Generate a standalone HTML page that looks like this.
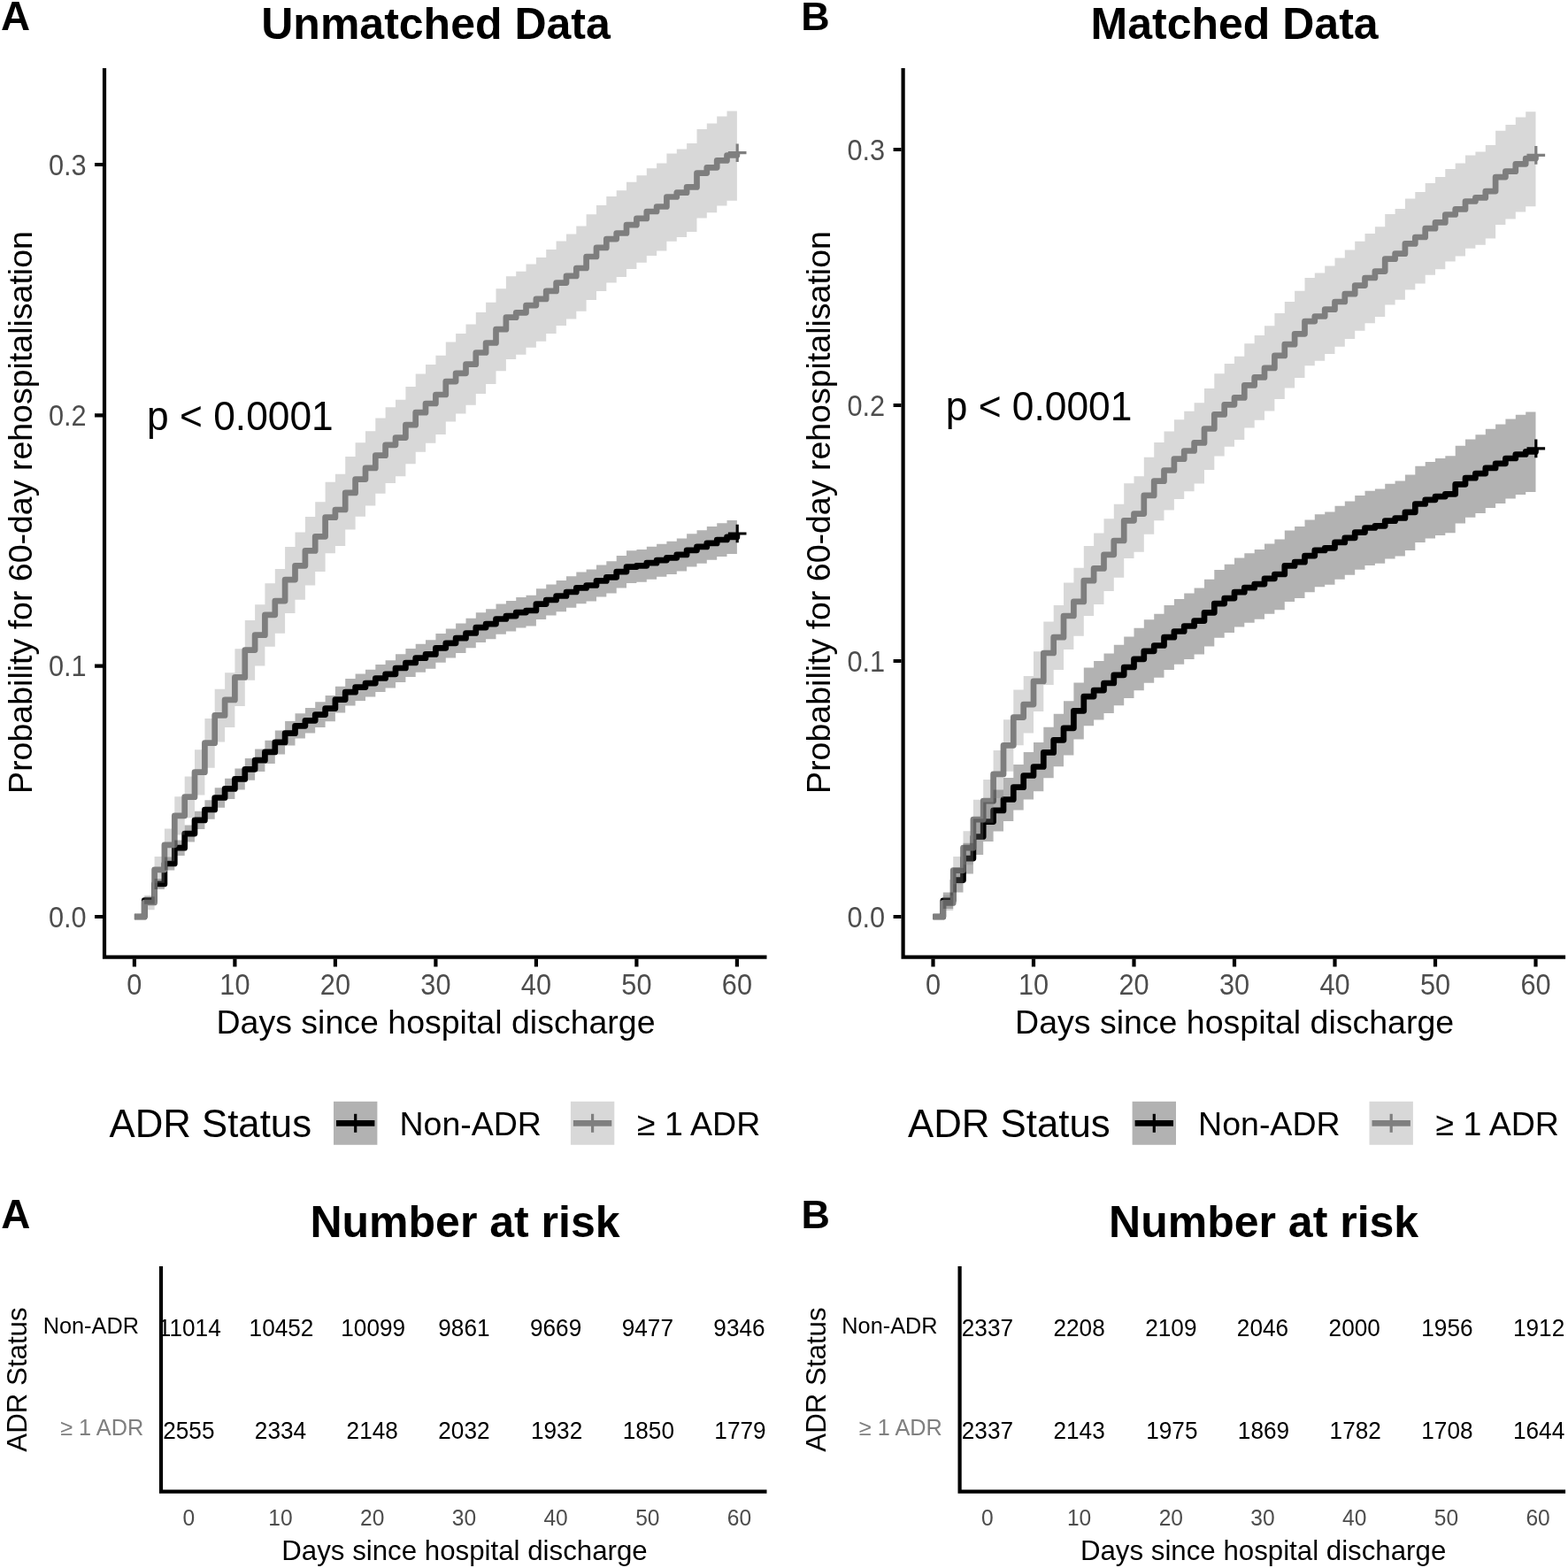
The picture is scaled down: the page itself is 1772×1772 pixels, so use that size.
<!DOCTYPE html>
<html lang="en">
<head>
<meta charset="utf-8">
<title>Kaplan-Meier: 60-day rehospitalisation by ADR status</title>
<style>
html,body{margin:0;padding:0;background:#fff;}
body{width:1772px;height:1772px;overflow:hidden;}
svg{display:block;font-family:"Liberation Sans",Arial,Helvetica,sans-serif;}
.tk{font-size:32px;fill:#4D4D4D;}
.ti{font-size:50px;font-weight:bold;fill:#000;}
.lab{font-size:45.8px;font-weight:bold;fill:#000;}
.at{font-size:37.5px;fill:#000;}
.pv{font-size:44.3px;fill:#000;}
.lt{font-size:43.75px;fill:#000;}
.ll{font-size:37.5px;fill:#000;}
.tn{font-size:27.3px;fill:#000;}
.tt{font-size:25.6px;fill:#4D4D4D;}
.tr{font-size:25.3px;}
.ta{font-size:31.25px;fill:#000;}
.ty{font-size:31.25px;fill:#000;}
</style>
</head>
<body>
<svg width="1772" height="1772" viewBox="0 0 1772 1772">
<rect width="1772" height="1772" fill="#fff"/>
<path d="M151.9,1036H163.2V1017.5H174.6V998.9H185.9V976H197.3V958.2H208.7V942.1H220V926.9H231.4V915H242.7V901.5H254.1V891.4H265.4V880.4H276.8V869.3H288.1V859.2H299.4V849.9H310.8V838.9H322.1V828.7H333.5V820.3H344.9V814.3H356.2V807.6H367.6V800.6H378.9V790.6H390.2V782.2H401.6V776.6H413V772.1H424.3V766.5H435.6V761.8H447V755H458.4V749H469.7V743.7H481V739.4H492.4V732.3H503.8V726.8H515.1V721.2H526.5V715.5H537.8V709.1H549.1V705.1H560.5V699.5H571.9V696.1H583.2V692.1H594.5V690H605.9V682.6H617.2V678H628.6V673.5H640V669H651.3V664.4H662.6V661.5H674V656.4H685.3V652.3H696.7V646.1H708V640.6H719.4V639.3H730.8V636.2H742.1V633.1H753.4V630.3H764.8V626.9H776.1V621.8H787.5V617.9H798.8V613.9H810.2V610H821.5V606.9H832.9V603" fill="none" stroke="#000" stroke-width="6.7" stroke-linejoin="round"/>
<path d="M151.9,1036H163.2V1020H174.6V982.8H185.9V954.8H197.3V921.8H208.7V900.7H220V872.7H231.4V839.7H242.7V808.4H254.1V790.9H265.4V765.4H276.8V734.6H288.1V717.7H299.4V694.8H310.8V679.1H322.1V655.1H333.5V639.3H344.9V622.4H356.2V606.3H367.6V584.7H378.9V576H390.2V556.9H401.6V541.6H413V528.9H424.3V514.7H435.6V502.8H447V494.6H458.4V480.2H469.7V466.2H481V456H492.4V446H503.8V431.1H515.1V421.8H526.5V411.7H537.8V398.5H549.1V387.5H560.5V372.2H571.9V358.7H583.2V353.3H594.5V345.1H605.9V337.9H617.2V328.9H628.6V319.6H640V311.9H651.3V303H662.6V290H674V279.9H685.3V270.1H696.7V263.5H708V254.2H719.4V246.9H730.8V239H742.1V233.5H753.4V222.5H764.8V217.7H776.1V211.4H787.5V195.6H798.8V189.3H810.2V181.4H821.5V175.5H832.9V172.7" fill="none" stroke="#7F7F7F" stroke-width="6.7" stroke-linejoin="round"/>
<path d="M151.9,1036H163.2V1013.2H174.6V992.9H185.9V968.4H197.3V949.6H208.7V932.6H220V916.7H231.4V904.3H242.7V890.3H254.1V879.8H265.4V868.4H276.8V856.9H288.1V846.4H299.4V836.8H310.8V825.5H322.1V815H333.5V806.3H344.9V800.1H356.2V793.2H367.6V786H378.9V775.8H390.2V767.1H401.6V761.4H413V756.8H424.3V751H435.6V746.2H447V739.2H458.4V733.1H469.7V727.7H481V723.3H492.4V716H503.8V710.4H515.1V704.6H526.5V698.8H537.8V692.3H549.1V688.2H560.5V682.4H571.9V679H583.2V674.9H594.5V672.7H605.9V665.2H617.2V660.5H628.6V655.9H640V651.3H651.3V646.6H662.6V643.6H674V638.4H685.3V634.3H696.7V627.9H708V622.3H719.4V621H730.8V617.8H742.1V614.7H753.4V611.8H764.8V608.4H776.1V603.2H787.5V599.2H798.8V595.1H810.2V591.2H821.5V588H832.9V625.9H821.5V629H810.2V632.8H798.8V636.7H787.5V640.6H776.1V645.6H764.8V648.9H753.4V651.7H742.1V654.7H730.8V657.7H719.4V659H708V664.4H696.7V670.5H685.3V674.5H674V679.5H662.6V682.3H651.3V686.8H640V691.2H628.6V695.6H617.2V700.1H605.9V707.4H594.5V709.4H583.2V713.4H571.9V716.7H560.5V722.2H549.1V726.1H537.8V732.3H526.5V737.9H515.1V743.4H503.8V748.7H492.4V755.7H481V759.8H469.7V765H458.4V770.9H447V777.5H435.6V782.1H424.3V787.5H413V791.9H401.6V797.4H390.2V805.5H378.9V815.2H367.6V822H356.2V828.5H344.9V834.4H333.5V842.5H322.1V852.4H310.8V863H299.4V872H288.1V881.8H276.8V892.5H265.4V903.1H254.1V912.8H242.7V925.7H231.4V937.1H220V951.6H208.7V966.9H197.3V983.6H185.9V1004.9H174.6V1021.8H163.2V1036H151.9Z" fill="#000" fill-opacity="0.3"/>
<path d="M151.9,1036H163.2V1011.8H174.6V967.9H185.9V936.5H197.3V900.3H208.7V877.4H220V847.2H231.4V811.9H242.7V778.7H254.1V760.2H265.4V733.3H276.8V701H288.1V683.2H299.4V659.3H310.8V642.9H322.1V617.9H333.5V601.5H344.9V583.9H356.2V567.2H367.6V544.8H378.9V535.8H390.2V516.1H401.6V500.3H413V487.2H424.3V472.5H435.6V460.3H447V451.8H458.4V437H469.7V422.6H481V412.1H492.4V401.8H503.8V386.5H515.1V377H526.5V366.6H537.8V353.1H549.1V341.8H560.5V326.2H571.9V312.3H583.2V306.8H594.5V298.4H605.9V291.1H617.2V281.9H628.6V272.4H640V264.5H651.3V255.4H662.6V242.2H674V231.9H685.3V221.9H696.7V215.2H708V205.7H719.4V198.2H730.8V190.2H742.1V184.6H753.4V173.4H764.8V168.5H776.1V162.1H787.5V146H798.8V139.6H810.2V131.6H821.5V125.6H832.9V226.7H821.5V232.5H810.2V240.2H798.8V246.4H787.5V261.9H776.1V268.1H764.8V272.8H753.4V283.6H742.1V289H730.8V296.7H719.4V303.9H708V313H696.7V319.5H685.3V329.1H674V339H662.6V351.7H651.3V360.4H640V367.9H628.6V377H617.2V385.8H605.9V392.8H594.5V400.8H583.2V406.1H571.9V419.2H560.5V434.1H549.1V444.9H537.8V457.7H526.5V467.5H515.1V476.6H503.8V491.1H492.4V500.8H481V510.7H469.7V524.2H458.4V538.2H447V546.1H435.6V557.7H424.3V571.4H413V583.7H401.6V598.4H390.2V616.9H378.9V625.2H367.6V646H356.2V661.5H344.9V677.7H333.5V692.9H322.1V715.8H310.8V730.8H299.4V752.6H288.1V768.7H276.8V797.9H265.4V822H254.1V838.4H242.7V867.7H231.4V898.4H220V924.2H208.7V943.5H197.3V973.2H185.9V997.8H174.6V1028.2H163.2V1036H151.9Z" fill="#7F7F7F" fill-opacity="0.3"/>
<path d="M822.9,603H843.5M833.2,592.7V613.3" stroke="#000" stroke-width="3.2" fill="none"/>
<path d="M822.9,172.7H843.5M833.2,162.4V183" stroke="#7F7F7F" stroke-width="3.2" fill="none"/>
<path d="M118,77V1083.7M115.9,1081.6H866.5" stroke="#000" stroke-width="4.2" fill="none"/>
<path d="M107,1036H116M107,752.7H116M107,469.3H116M107,186H116M151.9,1083.5V1092.5M265.4,1083.5V1092.5M378.9,1083.5V1092.5M492.4,1083.5V1092.5M605.9,1083.5V1092.5M719.4,1083.5V1092.5M832.9,1083.5V1092.5" stroke="#000" stroke-width="4.2" fill="none"/>
<text transform="translate(97.6,1047.5) scale(0.96,1.04)" class="tk" text-anchor="end">0.0</text>
<text transform="translate(97.6,764.2) scale(0.96,1.04)" class="tk" text-anchor="end">0.1</text>
<text transform="translate(97.6,480.8) scale(0.96,1.04)" class="tk" text-anchor="end">0.2</text>
<text transform="translate(97.6,197.5) scale(0.96,1.04)" class="tk" text-anchor="end">0.3</text>
<text transform="translate(151.9,1124) scale(0.96,1.04)" class="tk" text-anchor="middle">0</text>
<text transform="translate(265.4,1124) scale(0.96,1.04)" class="tk" text-anchor="middle">10</text>
<text transform="translate(378.9,1124) scale(0.96,1.04)" class="tk" text-anchor="middle">20</text>
<text transform="translate(492.4,1124) scale(0.96,1.04)" class="tk" text-anchor="middle">30</text>
<text transform="translate(605.9,1124) scale(0.96,1.04)" class="tk" text-anchor="middle">40</text>
<text transform="translate(719.4,1124) scale(0.96,1.04)" class="tk" text-anchor="middle">50</text>
<text transform="translate(832.9,1124) scale(0.96,1.04)" class="tk" text-anchor="middle">60</text>
<text x="492.5" y="44.3" class="ti" text-anchor="middle">Unmatched Data</text>
<text x="1.1" y="33.6" class="lab">A</text>
<text x="492.5" y="1167.8" class="at" text-anchor="middle">Days since hospital discharge</text>
<text transform="translate(35.6,579) rotate(-90)" class="at" text-anchor="middle">Probability for 60-day rehospitalisation</text>
<text transform="translate(166.1,486.4) scale(1,1.04)" class="pv">p &lt; 0.0001</text>
<text x="123.5" y="1285" class="lt">ADR Status</text>
<rect x="377" y="1244.8" width="49.4" height="49" fill="#000" fill-opacity="0.3"/>
<path d="M380,1269.4H423.4" stroke="#000" stroke-width="6.6" fill="none"/>
<path d="M401.7,1258.8V1279.8" stroke="#000" stroke-width="3.2" fill="none"/>
<text x="451.5" y="1282.6" class="ll">Non-ADR</text>
<rect x="644.9" y="1244.8" width="49.4" height="49" fill="#7F7F7F" fill-opacity="0.3"/>
<path d="M647.9,1269.4H691.3" stroke="#7F7F7F" stroke-width="6.6" fill="none"/>
<path d="M669.6,1258.8V1279.8" stroke="#7F7F7F" stroke-width="3.2" fill="none"/>
<text x="719.9" y="1282.6" class="ll">≥ 1 ADR</text>
<text x="1.3" y="1388" class="lab">A</text>
<text x="525.5" y="1397.6" class="ti" text-anchor="middle">Number at risk</text>
<path d="M182,1431V1687.7M179.9,1685.6H866.5" stroke="#000" stroke-width="4.2" fill="none"/>
<text transform="translate(214.3,1509.6) scale(0.96,1.04)" class="tn" text-anchor="middle">11014</text>
<text transform="translate(213.3,1625.7) scale(0.96,1.04)" class="tn" text-anchor="middle">2555</text>
<text transform="translate(213.3,1724) scale(0.96,1.04)" class="tt" text-anchor="middle">0</text>
<text transform="translate(318,1509.6) scale(0.96,1.04)" class="tn" text-anchor="middle">10452</text>
<text transform="translate(317,1625.7) scale(0.96,1.04)" class="tn" text-anchor="middle">2334</text>
<text transform="translate(317,1724) scale(0.96,1.04)" class="tt" text-anchor="middle">10</text>
<text transform="translate(421.7,1509.6) scale(0.96,1.04)" class="tn" text-anchor="middle">10099</text>
<text transform="translate(420.7,1625.7) scale(0.96,1.04)" class="tn" text-anchor="middle">2148</text>
<text transform="translate(420.7,1724) scale(0.96,1.04)" class="tt" text-anchor="middle">20</text>
<text transform="translate(524.4,1509.6) scale(0.96,1.04)" class="tn" text-anchor="middle">9861</text>
<text transform="translate(524.4,1625.7) scale(0.96,1.04)" class="tn" text-anchor="middle">2032</text>
<text transform="translate(524.4,1724) scale(0.96,1.04)" class="tt" text-anchor="middle">30</text>
<text transform="translate(628.1,1509.6) scale(0.96,1.04)" class="tn" text-anchor="middle">9669</text>
<text transform="translate(629.1,1625.7) scale(0.96,1.04)" class="tn" text-anchor="middle">1932</text>
<text transform="translate(628.1,1724) scale(0.96,1.04)" class="tt" text-anchor="middle">40</text>
<text transform="translate(731.8,1509.6) scale(0.96,1.04)" class="tn" text-anchor="middle">9477</text>
<text transform="translate(732.8,1625.7) scale(0.96,1.04)" class="tn" text-anchor="middle">1850</text>
<text transform="translate(731.8,1724) scale(0.96,1.04)" class="tt" text-anchor="middle">50</text>
<text transform="translate(835.5,1509.6) scale(0.96,1.04)" class="tn" text-anchor="middle">9346</text>
<text transform="translate(836.5,1625.7) scale(0.96,1.04)" class="tn" text-anchor="middle">1779</text>
<text transform="translate(835.5,1724) scale(0.96,1.04)" class="tt" text-anchor="middle">60</text>
<text x="48.7" y="1507" class="tr" fill="#000">Non-ADR</text>
<text x="68.2" y="1622.3" class="tr" fill="#7F7F7F">≥ 1 ADR</text>
<text x="525" y="1762.5" class="ta" text-anchor="middle">Days since hospital discharge</text>
<text transform="translate(30.4,1559) rotate(-90)" class="ty" text-anchor="middle">ADR Status</text>
<path d="M1054.5,1036H1065.8V1017.8H1077.2V994.6H1088.5V970.1H1099.9V945.5H1111.2V928.6H1122.6V915.9H1134V903.5H1145.3V889.7H1156.7V876.5H1168V866.5H1179.3V850.4H1190.7V836.3H1202V822.8H1213.4V803.3H1224.8V787.1H1236.1V780.1H1247.5V772H1258.8V762.8H1270.2V754H1281.5V744.8H1292.8V735.8H1304.2V729.5H1315.5V720.2H1326.9V713.5H1338.2V707.5H1349.6V701.6H1361V692.3H1372.3V682.1H1383.7V676.1H1395V669.2H1406.3V664.2H1417.7V660.1H1429V653.8H1440.4V649H1451.8V639.4H1463.1V635.2H1474.5V628.1H1485.8V621.9H1497.2V619.3H1508.5V612.9H1519.8V607.8H1531.2V601.6H1542.5V596.5H1553.9V594.3H1565.2V588.7H1576.6V585.5H1587.9V578.8H1599.3V569.5H1610.7V564.8H1622V561.1H1633.3V558.3H1644.7V547.3H1656V540.2H1667.4V535.1H1678.8V528.9H1690.1V523.8H1701.4V518H1712.8V513.5H1724.2V510.4H1735.5V506.9" fill="none" stroke="#000" stroke-width="6.7" stroke-linejoin="round"/>
<path d="M1054.5,1036H1065.8V1020.4H1077.2V983.6H1088.5V958.2H1099.9V926.1H1111.2V905.2H1122.6V874.9H1134V842.3H1145.3V810.6H1156.7V796.1H1168V769.9H1179.3V738H1190.7V720.2H1202V696H1213.4V679.9H1224.8V656.2H1236.1V642.4H1247.5V626.8H1258.8V611H1270.2V588.3H1281.5V580.6H1292.8V559.9H1304.2V543.7H1315.5V531.5H1326.9V518.7H1338.2V509.5H1349.6V500.4H1361V484.5H1372.3V468.4H1383.7V457.3H1395V449.4H1406.3V435.4H1417.7V426.4H1429V415.9H1440.4V401.9H1451.8V389.2H1463.1V377.3H1474.5V363.1H1485.8V357.5H1497.2V349.7H1508.5V341H1519.8V332.2H1531.2V322.6H1542.5V314H1553.9V306.6H1565.2V292.7H1576.6V286.7H1587.9V275.4H1599.3V268H1610.7V258.2H1622V251.4H1633.3V242.5H1644.7V236.4H1656V227.5H1667.4V223.4H1678.8V216.1H1690.1V200.1H1701.4V193.7H1712.8V185.3H1724.2V179H1735.5V175.4" fill="none" stroke="#7F7F7F" stroke-width="6.7" stroke-linejoin="round"/>
<path d="M1054.5,1036H1065.8V1008.5H1077.2V980.7H1088.5V952.7H1099.9V925.2H1111.2V906.5H1122.6V892.6H1134V879.1H1145.3V864.1H1156.7V849.9H1168V839.1H1179.3V821.8H1190.7V806.7H1202V792.3H1213.4V771.6H1224.8V754.4H1236.1V747H1247.5V738.5H1258.8V728.7H1270.2V719.5H1281.5V709.8H1292.8V700.3H1304.2V693.7H1315.5V683.9H1326.9V676.9H1338.2V670.6H1349.6V664.4H1361V654.7H1372.3V644H1383.7V637.7H1395V630.5H1406.3V625.3H1417.7V621H1429V614.4H1440.4V609.4H1451.8V599.4H1463.1V595H1474.5V587.6H1485.8V581.2H1497.2V578.5H1508.5V571.8H1519.8V566.5H1531.2V560.1H1542.5V554.8H1553.9V552.5H1565.2V546.7H1576.6V543.4H1587.9V536.4H1599.3V526.8H1610.7V521.9H1622V518.1H1633.3V515.2H1644.7V503.8H1656V496.4H1667.4V491.2H1678.8V484.7H1690.1V479.5H1701.4V473.5H1712.8V468.8H1724.2V465.6H1735.5V556H1724.2V559H1712.8V563.4H1701.4V569H1690.1V573.9H1678.8V579.9H1667.4V584.8H1656V591.6H1644.7V602.2H1633.3V604.9H1622V608.5H1610.7V613H1599.3V621.9H1587.9V628.4H1576.6V631.4H1565.2V636.8H1553.9V638.9H1542.5V643.8H1531.2V649.8H1519.8V654.7H1508.5V660.8H1497.2V663.3H1485.8V669.2H1474.5V676H1463.1V680H1451.8V689.2H1440.4V693.8H1429V699.8H1417.7V703.7H1406.3V708.5H1395V715.1H1383.7V720.8H1372.3V730.5H1361V739.4H1349.6V745H1338.2V750.7H1326.9V757H1315.5V765.8H1304.2V771.8H1292.8V780.3H1281.5V789H1270.2V797.3H1258.8V806H1247.5V813.6H1236.1V820.2H1224.8V835.4H1213.4V853.6H1202V866.2H1190.7V879.3H1179.3V894.2H1168V903.4H1156.7V915.5H1145.3V928.1H1134V939.4H1122.6V950.9H1111.2V966H1099.9V987.6H1088.5V1008.6H1077.2V1027.1H1065.8V1036H1054.5Z" fill="#000" fill-opacity="0.3"/>
<path d="M1054.5,1036H1065.8V1011.8H1077.2V968H1088.5V939.3H1099.9V903.8H1111.2V881H1122.6V848.1H1134V813.2H1145.3V779.4H1156.7V764H1168V736.2H1179.3V702.6H1190.7V683.9H1202V658.5H1213.4V641.7H1224.8V616.9H1236.1V602.5H1247.5V586.3H1258.8V569.8H1270.2V546.3H1281.5V538.3H1292.8V516.8H1304.2V500.1H1315.5V487.4H1326.9V474.2H1338.2V464.7H1349.6V455.3H1361V438.9H1372.3V422.3H1383.7V410.9H1395V402.8H1406.3V388.3H1417.7V379.1H1429V368.3H1440.4V353.9H1451.8V340.9H1463.1V328.7H1474.5V314.1H1485.8V308.4H1497.2V300.4H1508.5V291.5H1519.8V282.5H1531.2V272.7H1542.5V263.9H1553.9V256.3H1565.2V242.1H1576.6V236H1587.9V224.4H1599.3V216.9H1610.7V206.9H1622V199.9H1633.3V190.9H1644.7V184.6H1656V175.6H1667.4V171.4H1678.8V163.9H1690.1V147.7H1701.4V141.1H1712.8V132.6H1724.2V126.2H1735.5V233.2H1724.2V239.4H1712.8V247.6H1701.4V253.9H1690.1V269.6H1678.8V276.8H1667.4V280.8H1656V289.5H1644.7V295.5H1633.3V304.2H1622V310.8H1610.7V320.4H1599.3V327.6H1587.9V338.7H1576.6V344.5H1565.2V358.1H1553.9V365.3H1542.5V373.7H1531.2V383.1H1519.8V391.7H1508.5V400.1H1497.2V407.7H1485.8V413.2H1474.5V427H1463.1V438.6H1451.8V450.9H1440.4V464.5H1429V474.7H1417.7V483.4H1406.3V497H1395V504.7H1383.7V515.4H1372.3V531H1361V546.4H1349.6V555.2H1338.2V564H1326.9V576.4H1315.5V588.2H1304.2V603.8H1292.8V623.7H1281.5V631.1H1270.2V652.8H1258.8V668H1247.5V682.9H1236.1V696.1H1224.8V718.7H1213.4V734H1202V757H1190.7V773.9H1179.3V804H1168V828.6H1156.7V842.2H1145.3V871.8H1134V901.9H1122.6V929.7H1111.2V948.6H1099.9V977.2H1088.5V999.3H1077.2V1029H1065.8V1036H1054.5Z" fill="#7F7F7F" fill-opacity="0.3"/>
<path d="M1725.5,506.9H1746.1M1735.8,496.6V517.2" stroke="#000" stroke-width="3.2" fill="none"/>
<path d="M1725.5,175.4H1746.1M1735.8,165.1V185.7" stroke="#7F7F7F" stroke-width="3.2" fill="none"/>
<path d="M1020.6,77V1083.7M1018.5,1081.6H1769.1" stroke="#000" stroke-width="4.2" fill="none"/>
<path d="M1009.6,1036H1018.6M1009.6,747H1018.6M1009.6,458H1018.6M1009.6,169H1018.6M1054.5,1083.5V1092.5M1168,1083.5V1092.5M1281.5,1083.5V1092.5M1395,1083.5V1092.5M1508.5,1083.5V1092.5M1622,1083.5V1092.5M1735.5,1083.5V1092.5" stroke="#000" stroke-width="4.2" fill="none"/>
<text transform="translate(1000.2,1047.5) scale(0.96,1.04)" class="tk" text-anchor="end">0.0</text>
<text transform="translate(1000.2,758.5) scale(0.96,1.04)" class="tk" text-anchor="end">0.1</text>
<text transform="translate(1000.2,469.5) scale(0.96,1.04)" class="tk" text-anchor="end">0.2</text>
<text transform="translate(1000.2,180.5) scale(0.96,1.04)" class="tk" text-anchor="end">0.3</text>
<text transform="translate(1054.5,1124) scale(0.96,1.04)" class="tk" text-anchor="middle">0</text>
<text transform="translate(1168,1124) scale(0.96,1.04)" class="tk" text-anchor="middle">10</text>
<text transform="translate(1281.5,1124) scale(0.96,1.04)" class="tk" text-anchor="middle">20</text>
<text transform="translate(1395,1124) scale(0.96,1.04)" class="tk" text-anchor="middle">30</text>
<text transform="translate(1508.5,1124) scale(0.96,1.04)" class="tk" text-anchor="middle">40</text>
<text transform="translate(1622,1124) scale(0.96,1.04)" class="tk" text-anchor="middle">50</text>
<text transform="translate(1735.5,1124) scale(0.96,1.04)" class="tk" text-anchor="middle">60</text>
<text x="1395.1" y="44.3" class="ti" text-anchor="middle">Matched Data</text>
<text x="905.3" y="33.6" class="lab" style="font-size:44.8px">B</text>
<text x="1395.1" y="1167.8" class="at" text-anchor="middle">Days since hospital discharge</text>
<text transform="translate(938.2,579) rotate(-90)" class="at" text-anchor="middle">Probability for 60-day rehospitalisation</text>
<text transform="translate(1068.7,474.9) scale(1,1.04)" class="pv">p &lt; 0.0001</text>
<text x="1026.1" y="1285" class="lt">ADR Status</text>
<rect x="1279.6" y="1244.8" width="49.4" height="49" fill="#000" fill-opacity="0.3"/>
<path d="M1282.6,1269.4H1326" stroke="#000" stroke-width="6.6" fill="none"/>
<path d="M1304.3,1258.8V1279.8" stroke="#000" stroke-width="3.2" fill="none"/>
<text x="1354.1" y="1282.6" class="ll">Non-ADR</text>
<rect x="1547.5" y="1244.8" width="49.4" height="49" fill="#7F7F7F" fill-opacity="0.3"/>
<path d="M1550.5,1269.4H1593.9" stroke="#7F7F7F" stroke-width="6.6" fill="none"/>
<path d="M1572.2,1258.8V1279.8" stroke="#7F7F7F" stroke-width="3.2" fill="none"/>
<text x="1622.5" y="1282.6" class="ll">≥ 1 ADR</text>
<text x="905.5" y="1388" class="lab" style="font-size:44.8px">B</text>
<text x="1428.1" y="1397.6" class="ti" text-anchor="middle">Number at risk</text>
<path d="M1084.6,1431V1687.7M1082.5,1685.6H1769.1" stroke="#000" stroke-width="4.2" fill="none"/>
<text transform="translate(1115.9,1509.6) scale(0.96,1.04)" class="tn" text-anchor="middle">2337</text>
<text transform="translate(1115.9,1625.7) scale(0.96,1.04)" class="tn" text-anchor="middle">2337</text>
<text transform="translate(1115.9,1724) scale(0.96,1.04)" class="tt" text-anchor="middle">0</text>
<text transform="translate(1219.6,1509.6) scale(0.96,1.04)" class="tn" text-anchor="middle">2208</text>
<text transform="translate(1219.6,1625.7) scale(0.96,1.04)" class="tn" text-anchor="middle">2143</text>
<text transform="translate(1219.6,1724) scale(0.96,1.04)" class="tt" text-anchor="middle">10</text>
<text transform="translate(1323.3,1509.6) scale(0.96,1.04)" class="tn" text-anchor="middle">2109</text>
<text transform="translate(1324.3,1625.7) scale(0.96,1.04)" class="tn" text-anchor="middle">1975</text>
<text transform="translate(1323.3,1724) scale(0.96,1.04)" class="tt" text-anchor="middle">20</text>
<text transform="translate(1427,1509.6) scale(0.96,1.04)" class="tn" text-anchor="middle">2046</text>
<text transform="translate(1428,1625.7) scale(0.96,1.04)" class="tn" text-anchor="middle">1869</text>
<text transform="translate(1427,1724) scale(0.96,1.04)" class="tt" text-anchor="middle">30</text>
<text transform="translate(1530.7,1509.6) scale(0.96,1.04)" class="tn" text-anchor="middle">2000</text>
<text transform="translate(1531.7,1625.7) scale(0.96,1.04)" class="tn" text-anchor="middle">1782</text>
<text transform="translate(1530.7,1724) scale(0.96,1.04)" class="tt" text-anchor="middle">40</text>
<text transform="translate(1635.4,1509.6) scale(0.96,1.04)" class="tn" text-anchor="middle">1956</text>
<text transform="translate(1635.4,1625.7) scale(0.96,1.04)" class="tn" text-anchor="middle">1708</text>
<text transform="translate(1634.4,1724) scale(0.96,1.04)" class="tt" text-anchor="middle">50</text>
<text transform="translate(1739.1,1509.6) scale(0.96,1.04)" class="tn" text-anchor="middle">1912</text>
<text transform="translate(1739.1,1625.7) scale(0.96,1.04)" class="tn" text-anchor="middle">1644</text>
<text transform="translate(1738.1,1724) scale(0.96,1.04)" class="tt" text-anchor="middle">60</text>
<text x="951.3" y="1507" class="tr" fill="#000">Non-ADR</text>
<text x="970.8" y="1622.3" class="tr" fill="#7F7F7F">≥ 1 ADR</text>
<text x="1427.6" y="1762.5" class="ta" text-anchor="middle">Days since hospital discharge</text>
<text transform="translate(933,1559) rotate(-90)" class="ty" text-anchor="middle">ADR Status</text>
</svg>
</body>
</html>
